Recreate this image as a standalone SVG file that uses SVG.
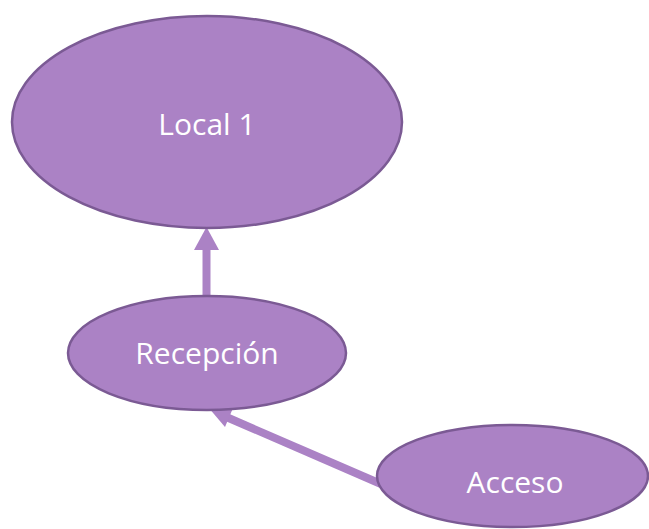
<svg xmlns="http://www.w3.org/2000/svg" width="649" height="529" viewBox="0 0 649 529">
<style>
.node ellipse{fill:#ab82c5;stroke:#7b5a94;stroke-width:2.5}
.node text{fill:#ffffff;font-family:"Open Sans","Liberation Sans",sans-serif;font-size:30px;text-anchor:middle}
.edge{stroke:#ab82c5;stroke-width:8;fill:none}
.head{fill:#ab82c5}
</style>
<rect width="649" height="529" fill="#ffffff"/>
<g id="connectors">
<line class="edge" x1="206.5" y1="297" x2="206.5" y2="248"/>
<polygon class="head" points="206.5,227 219,250 194,250"/>
<line class="edge" x1="381" y1="484" x2="224" y2="416"/>
<polygon class="head" points="208,407 233,408 225,427"/>
</g>
<g id="local1" class="node">
<ellipse cx="207" cy="122" rx="195" ry="106"/>
<text x="207" y="135">Local 1</text>
</g>
<g id="recepcion" class="node">
<ellipse cx="207" cy="353" rx="139" ry="57"/>
<text x="207" y="364">Recepción</text>
</g>
<g id="acceso" class="node">
<ellipse cx="512.5" cy="476" rx="135.5" ry="51"/>
<text x="515" y="493">Acceso</text>
</g>
</svg>
